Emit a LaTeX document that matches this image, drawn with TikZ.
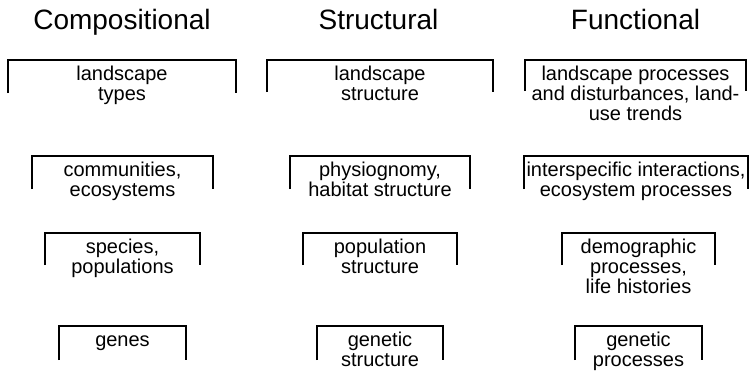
\documentclass[tikz,border=0pt]{standalone}
\usepackage{fontspec}
\setmainfont{Liberation Sans}
\begin{document}
\begin{tikzpicture}[x=1pt,y=-1pt,
  heading/.style={font=\fontsize{28}{28}\selectfont, anchor=base, inner sep=0pt},
  entry/.style={font=\fontsize{20}{20}\selectfont, align=center, anchor=north,
    inner sep=0pt, execute at begin node={\rule{0pt}{15pt}}},
  bracket/.style={line width=2pt, line join=miter}]
\useasboundingbox (0,0) rectangle (753,373);

% #1 name, #2 left, #3 right, #4 top, #5 leg end, #6 text
% the first text line sits 20.5pt below the top rule
\newcommand\levelbox[6]{%
  \node[entry] (#1) at ({(#2+#3)/2},{#4+5.5}) {#6};
  \draw[bracket] (#2,#5) |- (#3,#4) -- (#3,#5);
}

% column headings
\node[heading] (hcomp)   at (122,29)   {Compositional};
\node[heading] (hstruct) at (378.5,29) {Structural};
\node[heading] (hfunc)   at (635.5,29) {Functional};

% compositional
\levelbox{c1}{8}{236}{60}{93}{landscape\\types}
\levelbox{c2}{32}{213}{156}{189}{communities,\\ecosystems}
\levelbox{c3}{45}{200}{233}{265}{species,\\populations}
\levelbox{c4}{59}{186}{326}{360}{genes}

% structural
\levelbox{s1}{267}{493}{60}{92}{landscape\\structure}
\levelbox{s2}{290}{470}{156}{189}{physiognomy,\\habitat structure}
\levelbox{s3}{303}{457}{233}{265}{population\\structure}
\levelbox{s4}{317}{443}{326}{360}{genetic\\structure}

% functional
\levelbox{f1}{525}{746}{60}{91}{landscape processes\\and disturbances, land-\\use trends}
\levelbox{f2}{524}{748}{156}{189}{interspecific interactions,\\ecosystem processes}
\levelbox{f3}{562}{715}{233}{265}{demographic\\processes,\\life histories}
\levelbox{f4}{575}{702}{326}{360}{genetic\\processes}
\end{tikzpicture}
\end{document}
